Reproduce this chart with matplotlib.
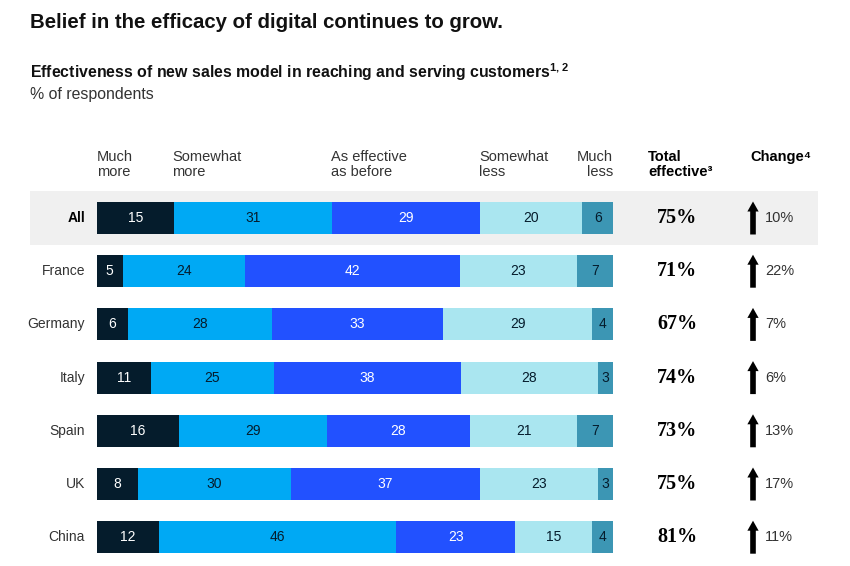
import matplotlib
matplotlib.use("Agg")
from matplotlib import pyplot as plt
from matplotlib.patches import Rectangle
import numpy as np

plt.rcParams['font.family'] = ['Liberation Sans', 'DejaVu Sans']
plt.rcParams['mathtext.fontset'] = 'custom'
plt.rcParams['mathtext.rm'] = 'Liberation Sans'
plt.rcParams['mathtext.bf'] = 'Liberation Sans:bold'

# data
countries = ["All", "France", "Germany", "Italy", "Spain", "UK", "China"]
much_more = [15, 5, 6, 11, 16, 8, 12]
somewhat_more = [31, 24, 28, 25, 29, 30, 46]
as_before = [29, 42, 33, 38, 28, 37, 23]
somewhat_less = [20, 23, 29, 28, 21, 23, 15]
much_less = [6, 7, 4, 3, 7, 3, 4]
total_effective = [75, 71, 67, 74, 73, 75, 81]
change = [10, 22, 7, 6, 13, 17, 11]

series = [much_more, somewhat_more, as_before, somewhat_less, much_less]
series_names = ["Much\nmore", "Somewhat\nmore", "As effective\nas before",
                "Somewhat\nless", "Much\nless"]
colors = ["#051C2C", "#00A9F4", "#2251FF", "#AAE6F0", "#3C96B4"]
label_colors = ["white", "#051C2C", "white", "#051C2C", "#051C2C"]

W, H = 850, 566
fig = plt.figure(figsize=(W / 100, H / 100), dpi=100)

# bar area: x 97..613 px, rows centered at 218 + 53.2*i px
x0, x1 = 97, 613
row_h = 53.2
top = 218 - row_h / 2
bottom = top + row_h * len(countries)
ax = fig.add_axes([x0 / W, 1 - bottom / H, (x1 - x0) / W, (bottom - top) / H])
ax.set_xlim(0, 100)
ax.set_ylim(len(countries) - 0.5, -0.5)
ax.axis("off")

def px2x(px):
    return (px - x0) / (x1 - x0) * 100

vals = np.array(series, dtype=float)
shares = vals / vals.sum(axis=0) * 100
y = np.arange(len(countries))

# grey band behind "All"
ax.add_patch(Rectangle((px2x(30), -0.5), px2x(818) - px2x(30), 1.0,
                       facecolor="#F0F0F0", edgecolor="none", zorder=0, clip_on=False))

left = np.zeros(len(countries))
for k in range(len(series)):
    ax.barh(y, shares[k], left=left, height=0.6, color=colors[k], zorder=2)
    for i in range(len(countries)):
        ax.text(left[i] + shares[k][i] / 2, y[i], str(series[k][i]), ha="center", va="center",
                fontsize=10, color=label_colors[k], zorder=3)
    left += shares[k]

for i, c in enumerate(countries):
    ax.text(px2x(85), y[i], c, ha="right", va="center", fontsize=10,
            color="black" if i == 0 else "#333333", fontweight="bold" if i == 0 else "normal")
    ax.text(px2x(677), y[i], f"{total_effective[i]}%", ha="center", va="center",
            fontsize=14.5, fontweight="bold", family="Liberation Serif", color="black")
    ax.annotate("", xy=(px2x(753), y[i] - 0.31), xytext=(px2x(753), y[i] + 0.31),
                arrowprops=dict(arrowstyle="simple,head_width=0.9,head_length=0.8,tail_width=0.45",
                                mutation_scale=9, color="black", lw=0,
                                shrinkA=0, shrinkB=0), annotation_clip=False)
    ax.text(px2x(765), y[i], f"{change[i]}%", ha="left", va="center", fontsize=10.5,
            color="#333333")

# column headers
def ftext(px, py, s, **kw):
    fig.text(px / W, 1 - py / H, s, **kw)

head_x = [97, 172, 331, 479]
for k in range(4):
    ftext(head_x[k], 150, series_names[k], ha="left", va="top", fontsize=10.5,
          color="#333333", linespacing=1.05)
ftext(613, 150, series_names[4], ha="right", va="top", fontsize=10.5, color="#333333",
      linespacing=1.05, multialignment="right")
ftext(648, 150, "Total\neffective\u00b3", ha="left", va="top", fontsize=10.5,
      fontweight="bold", color="black", linespacing=1.05)
ftext(750, 150, "Change\u2074", ha="left", va="top", fontsize=10.5,
      fontweight="bold", color="black")

# titles
ftext(30, 22, "Belief in the efficacy of digital continues to grow.", ha="left",
      va="center", fontsize=14.7, fontweight="bold", color="#111111")
ftext(30, 72, r"Effectiveness of new sales model in reaching and serving customers$^{\mathbf{1,2}}$",
      ha="left", va="center", fontsize=11.4, fontweight="bold", color="#111111")
ftext(30, 95, "% of respondents", ha="left", va="center", fontsize=11.4, color="#333333")

fig.savefig("out.png", dpi=100, facecolor="white")
